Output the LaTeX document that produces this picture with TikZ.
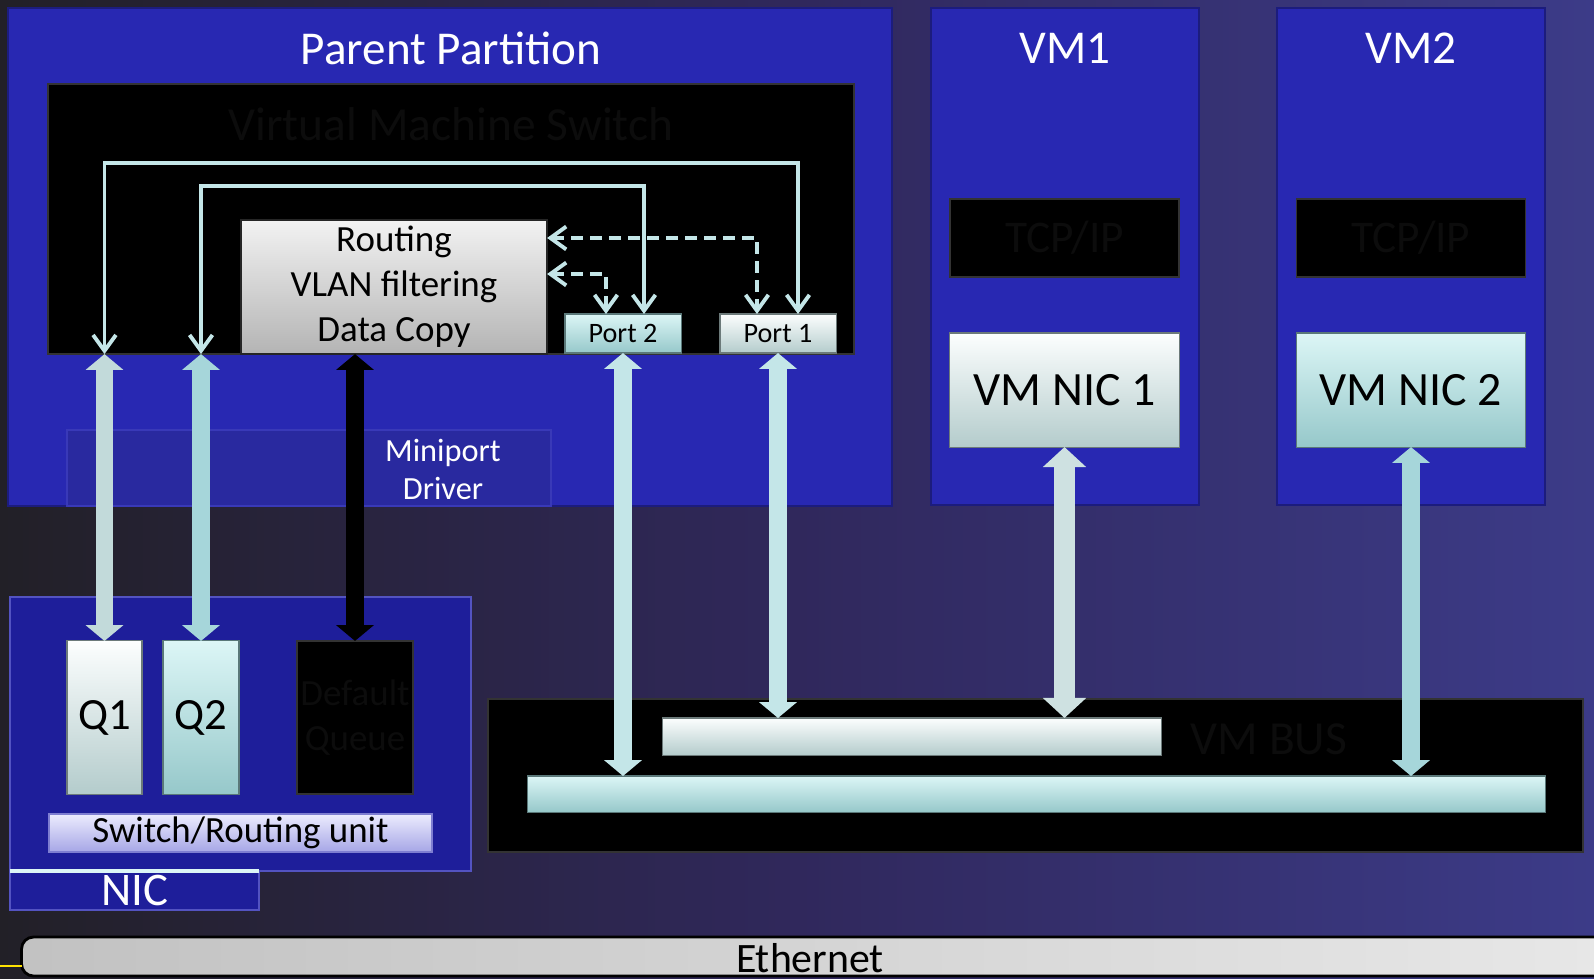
\documentclass[tikz,border=0pt]{standalone}
\usepackage{fontspec}
\setmainfont{Carlito}
\usetikzlibrary{arrows.meta}

\definecolor{bgdark}{HTML}{222027}
\definecolor{bgmid}{HTML}{30285C}
\definecolor{bgblue}{HTML}{3C3B88}
\definecolor{partblue}{HTML}{2828B2}
\definecolor{nicblue}{HTML}{1E1E9A}
\definecolor{hidden}{HTML}{0C0C0C}
\definecolor{cyanhi}{HTML}{DCF6F6}
\definecolor{cyanlo}{HTML}{96C8CA}
\definecolor{whitehi}{HTML}{FCFEFE}
\definecolor{whitelo}{HTML}{B4CCCC}
\definecolor{linkcol}{HTML}{C4E6E8}
\definecolor{qonecol}{HTML}{C2DADA}
\definecolor{qtwocol}{HTML}{A6D6DA}
\definecolor{lavhi}{HTML}{ECECFE}
\definecolor{lavlo}{HTML}{A6A6E6}
\definecolor{grayhi}{HTML}{F2F2F2}
\definecolor{graylo}{HTML}{B4B4B4}

\tikzset{
  box/.style={inner sep=0pt, outer sep=0pt, align=center},
  panel/.style={box, fill=partblue, draw=partblue!70!black, line width=0.6pt},
  blackbox/.style={box, fill=black, draw=black!80!white, line width=0.5pt, text=hidden},
  cyanbox/.style={box, top color=cyanhi, bottom color=cyanlo, draw=cyanlo!60!black, line width=0.3pt},
  whitebox/.style={box, top color=whitehi, bottom color=whitelo, draw=whitelo!60!black, line width=0.3pt},
  graybox/.style={box, top color=grayhi, bottom color=graylo, draw=black!85, line width=0.5pt},
  portbox/.style={minimum width=11.6mm, minimum height=3.9mm, font=\fontsize{8}{10}\selectfont},
  queuebox/.style={minimum height=15.3mm, font=\fontsize{12.7}{15}\selectfont},
  vmnicbox/.style={minimum width=22.9mm, minimum height=11.4mm, font=\fontsize{13.6}{16}\selectfont},
  tcpbox/.style={minimum width=22.9mm, minimum height=7.8mm, font=\fontsize{12.9}{15}\selectfont},
  title/.style={text=white, inner sep=0pt, font=\fontsize{13.4}{16}\selectfont},
  hiddentext/.style={text=hidden, inner sep=0pt, font=\fontsize{13.5}{16}\selectfont},
  thinlink/.style={draw=linkcol, line width=1.1pt,
    {Straight Barb[length=4.5pt,width=6.5pt]}-{Straight Barb[length=4.5pt,width=6.5pt]}},
  biglink/.style={draw=linkcol, line width=5pt,
    {Triangle[length=4.5pt,width=10.5pt]}-{Triangle[length=4.5pt,width=10.5pt]}}
}

\begin{document}
\begin{tikzpicture}[x=0.01cm, y=-0.01cm]
  \clip (0,0) rectangle (1594,978);
  \shade[left color=bgdark, right color=bgblue, middle color=bgmid] (0,0) rectangle (1594,978);

  % partitions
  \node[panel, minimum width=88.4mm, minimum height=49.8mm] (parent) at (450,257) {};
  \node[panel, minimum width=26.8mm, minimum height=49.7mm] (vm1) at (1065,256.5) {};
  \node[panel, minimum width=26.8mm, minimum height=49.7mm] (vm2) at (1411,256.5) {};
  \node[title] (parentname) at (451,48) {Parent Partition};
  \node[title] (vm1name) at (1065,48) {VM1};
  \node[title] (vm2name) at (1411,48) {VM2};

  % virtual machine switch
  \node[blackbox, minimum width=80.6mm, minimum height=27mm] (vms) at (451,219) {};
  \node[hiddentext] (vmsname) at (451,124) {Virtual Machine Switch};
  \node[graybox, minimum width=30.6mm, minimum height=13.4mm,
        font=\fontsize{10.5}{12.8}\selectfont] (routing) at (394,287) {Routing\\VLAN filtering\\Data Copy};
  \node[cyanbox, portbox] (port2) at (623,333.5) {Port 2};
  \node[whitebox, portbox] (port1) at (778,333.5) {Port 1};
  \node[box, fill=nicblue!95!white, draw=partblue!92!white, line width=0.4pt,
        minimum width=48.4mm, minimum height=7.6mm] (miniport) at (309,468) {};
  \node[title, align=center, font=\fontsize{9.2}{10.8}\selectfont] (mininame) at (443,469) {Miniport\\Driver};

  % guest stacks
  \node[blackbox, tcpbox] (tcp1) at (1064.5,238) {TCP/IP};
  \node[blackbox, tcpbox] (tcp2) at (1411,238) {TCP/IP};
  \node[whitebox, vmnicbox] (nic1) at (1064.5,390) {VM NIC 1};
  \node[cyanbox, vmnicbox] (nic2) at (1411,390) {VM NIC 2};

  % physical NIC
  \node[box, fill=nicblue, draw=partblue!80!white, line width=0.4pt,
        minimum width=46.1mm, minimum height=27.4mm] (nic) at (240.5,734) {};
  \node[box, fill=nicblue, draw=partblue!80!white, line width=0.4pt, text=white,
        font=\fontsize{13.3}{16}\selectfont, minimum width=24.9mm, minimum height=3.9mm] (nictab) at (134.5,890.5) {NIC};
  \draw[cyanhi, line width=1.2pt] (nictab.north west) -- (nictab.north east);
  \node[whitebox, queuebox, minimum width=7.5mm] (q1) at (104.5,717.5) {Q1};
  \node[cyanbox, queuebox, minimum width=7.6mm] (q2) at (201,717.5) {Q2};
  \node[blackbox, minimum width=11.6mm, minimum height=15.3mm,
        font=\fontsize{10.5}{12.6}\selectfont] (dq) at (355,717.5) {Default\\Queue};
  \node[box, top color=lavhi, bottom color=lavlo, draw=partblue!60!white, line width=0.4pt,
        minimum width=38.3mm, minimum height=3.8mm, font=\fontsize{10.5}{12}\selectfont] (sru) at (240.5,833) {Switch/Routing unit};

  % vm bus
  \node[blackbox, minimum width=109.5mm, minimum height=15.3mm] (vmbus) at (1035.5,775.5) {};
  \node[hiddentext] (vmbusname) at (1269,739) {VM BUS};
  \node[whitebox, minimum width=49.8mm, minimum height=3.7mm] (bar1) at (912,736.5) {};
  \node[cyanbox, minimum width=101.7mm, minimum height=3.6mm] (bar2) at (1036.5,794) {};

  % ethernet
  \node[box, left color=black!24, right color=black!9, draw=black, line width=0.8pt,
        rounded corners=1.2mm, minimum width=162mm, minimum height=3.9mm] (eth) at (832,956.5) {};
  \node[inner sep=0pt, font=\fontsize{11.9}{14}\selectfont] (ethname) at (810,958) {Ethernet};
  \coordinate (ethtap) at (0,966);
  \draw[yellow!85!orange, line width=0.6pt] (ethtap) -- (ethtap -| eth.west);

  % switch paths
  \draw[thinlink] ([xshift=2mm]port1.north) |- ([yshift=-7.9mm]vms.north) -| (q1.north |- vms.south);
  \draw[thinlink] ([xshift=2.1mm]port2.north) |- ([yshift=-10.2mm]vms.north) -| (q2.north |- vms.south);
  \draw[thinlink, dash pattern=on 3.4pt off 2pt] ([yshift=4.9mm]routing.east) -| ([xshift=-2.1mm]port1.north);
  \draw[thinlink, dash pattern=on 3.4pt off 2pt] ([yshift=1.3mm]routing.east) -| ([xshift=-1.7mm]port2.north);

  % data paths
  \draw[biglink, draw=qonecol] (q1.north) -- (q1.north |- vms.south);
  \draw[biglink, draw=qtwocol] (q2.north) -- (q2.north |- vms.south);
  \draw[biglink, draw=black] (dq.north) -- (dq.north |- routing.south);
  \draw[biglink] (port2.south) -- (port2.south |- bar2.north);
  \draw[biglink] (port1.south) -- (port1.south |- bar1.north);
  \draw[biglink, draw=qonecol!80!white, line width=6pt,
        {Triangle[length=5.7pt,width=12pt]}-{Triangle[length=5.7pt,width=12pt]}] (nic1.south) -- (nic1.south |- bar1.north);
  \draw[biglink, draw=qtwocol] (nic2.south) -- (nic2.south |- bar2.north);
\end{tikzpicture}
\end{document}
